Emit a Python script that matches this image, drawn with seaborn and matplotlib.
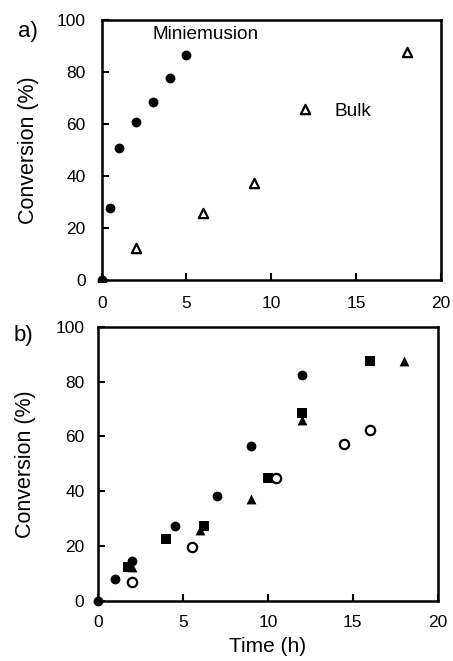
import numpy as np
import pandas as pd
import matplotlib
matplotlib.use("Agg")
import matplotlib.pyplot as plt
from matplotlib.patches import Rectangle
import seaborn as sns

# panel a) miniemulsion vs bulk
mini_t = [0, 0.5, 1, 2, 3, 4, 5]
mini_x = [0, 27.7, 50.9, 60.9, 68.6, 77.8, 86.4]
bulk_t = [0, 2, 6, 9, 12, 18]
bulk_x = [0, 12.2, 25.9, 37.3, 65.8, 87.6]

# panel b) four series
circ_t = [0, 1, 2, 4.5, 7, 9, 12]
circ_x = [0, 8.0, 14.5, 27.3, 38.2, 56.5, 82.3]
sq_t = [1.75, 4, 6.25, 10, 12, 16]
sq_x = [12.2, 22.5, 27.3, 44.9, 68.4, 87.5]
tri_t = [2, 6, 9, 12, 18]
tri_x = [12.2, 25.8, 37.1, 66.0, 87.7]
open_t = [2, 5.5, 10.5, 14.5, 16]
open_x = [6.9, 19.7, 44.9, 57.1, 62.3]

sns.set_style("ticks", {'xtick.direction': 'in', 'ytick.direction': 'in'})
plt.rcParams['font.family'] = ['Liberation Sans', 'DejaVu Sans']
plt.rcParams['text.color'] = 'black'
plt.rcParams['axes.labelcolor'] = 'black'
plt.rcParams['xtick.color'] = 'black'
plt.rcParams['ytick.color'] = 'black'

fig = plt.figure(figsize=(4.53, 6.61), dpi=100)
ax1 = fig.add_axes([0.2245, 0.5764, 0.7485, 0.3933])
ax2 = fig.add_axes([0.217, 0.0912, 0.749, 0.4141])

fs = 12.5

# panel a
sns.scatterplot(x=bulk_t, y=bulk_x, ax=ax1, marker='^', s=45, facecolor='white',
                edgecolor='black', linewidth=1.6, zorder=3)
sns.scatterplot(x=mini_t, y=mini_x, ax=ax1, marker='o', s=50, color='black',
                edgecolor='black', linewidth=0, zorder=4)
# the point at the origin is cut at the x axis, as in the original
for coll in ax1.collections:
    coll.set_clip_box(None)
    coll.set_clip_path(Rectangle((-0.05, -0.008), 1.1, 1.1, transform=ax1.transAxes))
ax1.text(6.1, 94.5, 'Miniemusion', fontsize=13.7, ha='center', va='center')
ax1.text(14.8, 64.7, 'Bulk', fontsize=13.7, ha='center', va='center')

# panel b
sns.scatterplot(x=circ_t, y=circ_x, ax=ax2, marker='o', s=50, color='black',
                edgecolor='black', linewidth=0, clip_on=False, zorder=3)
sns.scatterplot(x=sq_t, y=sq_x, ax=ax2, marker='s', s=42, color='black',
                edgecolor='black', linewidth=0, clip_on=False, zorder=3)
sns.scatterplot(x=tri_t, y=tri_x, ax=ax2, marker='^', s=50, color='black',
                edgecolor='black', linewidth=0, clip_on=False, zorder=3)
sns.scatterplot(x=open_t, y=open_x, ax=ax2, marker='o', s=45, facecolor='white',
                edgecolor='black', linewidth=1.6, clip_on=False, zorder=3)

for ax, pad, lp in [(ax1, 11.5, 13), (ax2, 10, 14)]:
    ax.set_xlim(0, 20)
    ax.set_ylim(0, 100)
    ax.set_xticks([0, 5, 10, 15, 20])
    ax.set_yticks([0, 20, 40, 60, 80, 100])
    ax.tick_params(direction='in', length=5, width=1.5, labelsize=fs, color='black',
                   bottom=True, left=True, top=False, right=False, pad=pad)
    for sp in ax.spines.values():
        sp.set_linewidth(1.8)
        sp.set_color('black')
        sp.set_visible(True)
    ax.set_ylabel('Conversion (%)', fontsize=15.5, labelpad=lp)

ax2.set_xlabel('Time (h)', fontsize=15, labelpad=5)

fig.text(0.061, 0.953, 'a)', fontsize=16, ha='center', va='center')
fig.text(0.052, 0.493, 'b)', fontsize=16, ha='center', va='center')

fig.savefig('out.png', dpi=100)
